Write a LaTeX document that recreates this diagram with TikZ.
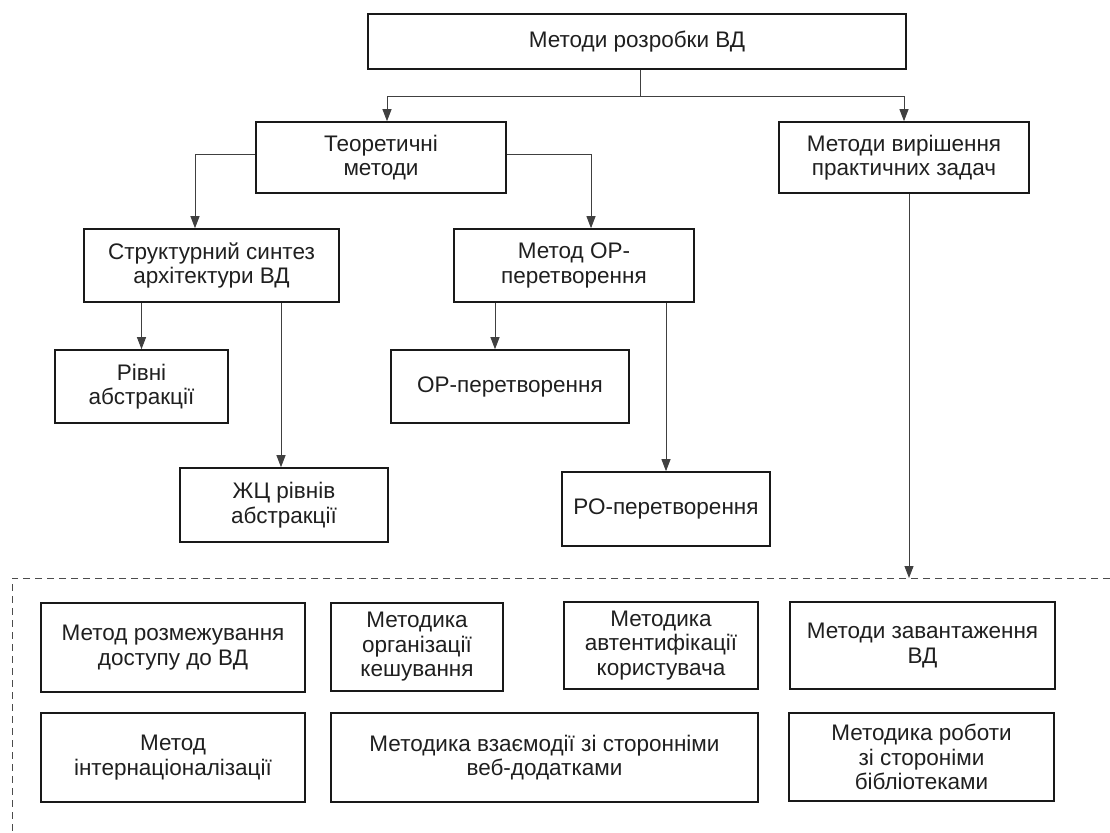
\documentclass[tikz,border=0pt]{standalone}
\usepackage{fontspec}
\setmainfont{Liberation Sans}
\usetikzlibrary{arrows.meta,calc}
\begin{document}
\begin{tikzpicture}[x=1pt,y=-1pt,
  box/.style={draw=black!90, line width=1.6pt, align=center, inner sep=0pt,
    text=black!88, font=\fontsize{22.5}{24.5}\selectfont},
  conn/.style={draw=black!75, line width=0.9pt},
  arr/.style={conn, -{Triangle[length=12pt,width=9pt]}},
  frame/.style={draw=black!70, line width=0.9pt, dash pattern=on 7pt off 5pt}]
\useasboundingbox (0,0) rectangle (1110,832);

% upper tree
\node[box, minimum width=538, minimum height=55] (top) at (637,41.5) {Методи розробки ВД};
\node[box, minimum width=250, minimum height=71] (theor) at (381,157.5) {Теоретичні\\методи};
\node[box, minimum width=250, minimum height=71] (pract) at (904,157.5) {Методи вирішення\\практичних задач};
\node[box, minimum width=255, minimum height=73] (struct) at (211.5,265.5) {Структурний синтез\\архітектури ВД};
\node[box, minimum width=240, minimum height=73] (ormeth) at (574,265.5) {Метод ОР-\\перетворення};
\node[box, minimum width=173, minimum height=73] (rivni) at (141.5,386.5) {Рівні\\абстракції};
\node[box, minimum width=238, minimum height=73] (ortr) at (510,386.5) {ОР-перетворення};
\node[box, minimum width=208, minimum height=74] (zhc) at (284,505) {ЖЦ рівнів\\абстракції};
\node[box, minimum width=208, minimum height=74] (po) at (666,509) {РО-перетворення};

% group of practical methods
\node[box, minimum width=264, minimum height=89] (b1) at (173,647.5) {Метод розмежування\\доступу до ВД};
\node[box, minimum width=172, minimum height=88] (b2) at (417,647) {Методика\\організації\\кешування};
\node[box, minimum width=194, minimum height=87] (b3) at (661,645.5) {Методика\\автентифікації\\користувача};
\node[box, minimum width=265, minimum height=87] (b4) at (922.5,645.5) {Методи завантаження\\ВД};
\node[box, minimum width=264, minimum height=89] (b5) at (173,757.5) {Метод\\інтернаціоналізації};
\node[box, minimum width=427, minimum height=89] (b6) at (544.5,757.5) {Методика взаємодії зі сторонніми\\веб-додатками};
\node[box, minimum width=265, minimum height=88] (b7) at (921.5,757) {Методика роботи\\зі стороніми\\бібліотеками};

% dashed frame around the group
\coordinate (frameTL) at (12,578);
\coordinate (frameTR) at (1110,578);
\coordinate (frameBL) at (12,832);
\draw[frame] (frameTR) -- (frameTL) -- (frameBL);

% connectors
\coordinate (split) at ($(top.south)+(3,27)$);
\draw[conn] ([xshift=3pt]top.south) -- (split);
\draw[arr] (split) -| ([xshift=6pt]theor.north);
\draw[arr] (split) -| (pract.north);
\draw[arr] ([yshift=3.5pt]theor.west) -| ([xshift=-16.5pt]struct.north);
\draw[arr] ([yshift=3.5pt]theor.east) -| ([xshift=17pt]ormeth.north);
\draw[arr] (struct.south -| rivni.north) -- (rivni.north);
\draw[arr] ([xshift=-3pt]struct.south -| zhc.north) -- ([xshift=-3pt]zhc.north);
\draw[arr] ([xshift=-15pt]ormeth.south -| ortr.north) -- ([xshift=-15pt]ortr.north);
\draw[arr] (ormeth.south -| po.north) -- (po.north);
\coordinate (frameIn) at ([xshift=5pt]pract.south |- frameTL);
\draw[arr] ([xshift=5pt]pract.south) -- (frameIn);
\end{tikzpicture}
\end{document}
